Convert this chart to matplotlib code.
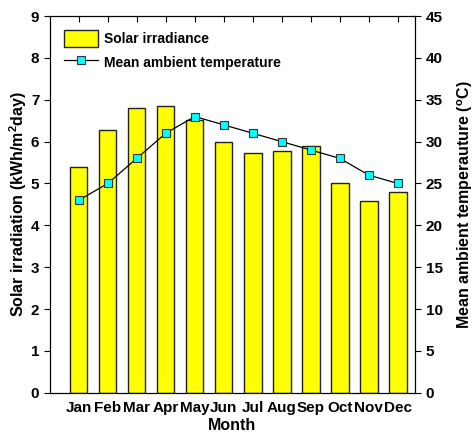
import numpy as np
import matplotlib.pyplot as plt

plt.rcParams['font.family'] = ['Liberation Sans', 'DejaVu Sans']
plt.rcParams['font.weight'] = 'bold'

months = ["Jan", "Feb", "Mar", "Apr", "May", "Jun",
          "Jul", "Aug", "Sep", "Oct", "Nov", "Dec"]
irradiance = [5.39, 6.28, 6.80, 6.84, 6.52, 5.99,
              5.73, 5.78, 5.89, 5.01, 4.58, 4.80]
temperature = [23, 25, 28, 31, 33, 32, 31, 30, 29, 28, 26, 25]

x = np.arange(1, len(months) + 1)

fig = plt.figure(figsize=(4.74, 4.34), dpi=100)
ax = fig.add_axes([0.105, 0.095, 0.771, 0.868])

bars = ax.bar(x, irradiance, width=0.6, color='#ffff00', edgecolor='#222222',
              linewidth=1.0, label='Solar irradiance')
ax.set_xlim(0, 12.6)
ax.set_ylim(0, 9)
ax.set_xticks(x)
ax.set_xticklabels(months)
ax.set_yticks(range(0, 10))
ax.tick_params(axis='x', bottom=False, top=True, direction='in', length=4,
               labelsize=11, pad=6)
ax.tick_params(axis='y', direction='out', length=4, labelsize=11)
ax.set_xlabel("Month", fontsize=11.5, fontweight='bold', labelpad=2)
ax.set_ylabel("Solar irradiation (kWh/m$^\\mathregular{2}$day)",
              fontsize=11.5, fontweight='bold', labelpad=1)

ax2 = ax.twinx()
line, = ax2.plot(x, temperature, color='black', linewidth=0.9, marker='s',
                 markersize=6, markerfacecolor='#00ffff',
                 markeredgecolor='#333333', markeredgewidth=0.8,
                 label='Mean ambient temperature')
ax2.set_ylim(0, 45)
ax2.set_yticks(range(0, 50, 5))
ax2.tick_params(axis='y', direction='out', length=4, labelsize=11)
ax2.set_ylabel("Mean ambient temperauture ($^\\mathregular{o}$C)",
               fontsize=11.5, fontweight='bold', labelpad=9)

ax.legend([bars, line], ['Solar irradiance', 'Mean ambient temperature'],
          loc='upper left', frameon=False, fontsize=10, handlelength=2.5,
          handleheight=1.5, borderaxespad=0.6, handletextpad=0.4,
          labelspacing=0.5)

fig.savefig("out.png", dpi=100)
